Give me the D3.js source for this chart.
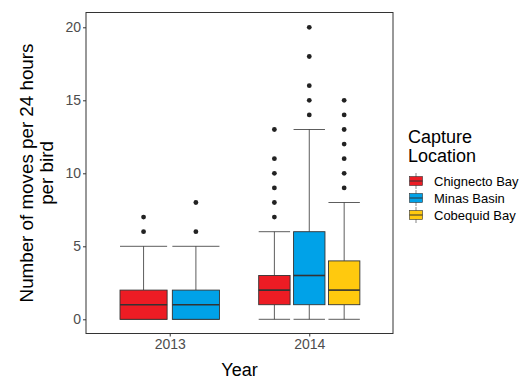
<!DOCTYPE html>
<html><head><meta charset="utf-8">
<script src="https://cdn.jsdelivr.net/npm/d3@7"></script>
<style>body{margin:0;background:#fff}svg{display:block;font-family:Arial,"Liberation Sans",sans-serif}</style>
</head><body><div id="chart"></div>
<script>
const years = ["2013", "2014"];
const locations = ["Chignecto Bay", "Minas Basin", "Cobequid Bay"];
const colors = ["#ED1C24", "#00A2E8", "#FFC90E"];
const yTicks = [0, 5, 10, 15, 20];
const boxYear = ["2013", "2013", "2014", "2014", "2014"];
const boxLoc = ["Chignecto Bay", "Minas Basin", "Chignecto Bay", "Minas Basin", "Cobequid Bay"];
const whiskerLow = [0, 0, 0, 0, 0];
const q1 = [0, 0, 1, 1, 1];
const median = [1, 1, 2, 3, 2];
const q3 = [2, 2, 3, 6, 4];
const whiskerHigh = [5, 5, 6, 13, 8];
const outliers = [[6, 7], [6, 8], [7, 8, 9, 10, 11, 13], [14, 15, 16, 18, 20], [9, 10, 11, 12, 13, 14, 15]];

const W = 525, H = 379;
const m = {l: 86, r: 393, t: 12.5, b: 333.5};
const svg = d3.select("#chart").append("svg").attr("width", W).attr("height", H);

// ggplot-style discrete expansion: 0.6 units on each side
const unit = (m.r - m.l) / 2.2;
const xs = d3.scalePoint().domain(years).range([m.l + unit * 0.6, m.r - unit * 0.6]);
const y = d3.scaleLinear().domain([0, 20]).range([319.3, 27.3]);
const color = d3.scaleOrdinal().domain(locations).range(colors);

// y axis
const gy = svg.append("g").attr("transform", `translate(${m.l},0)`)
  .call(d3.axisLeft(y).tickValues(yTicks).tickSize(3).tickPadding(2));
gy.select(".domain").remove();
gy.selectAll(".tick line").attr("stroke", "#333");
gy.selectAll(".tick text").attr("fill", "#4D4D4D").style("font-size", "14px");

// x axis
const gx = svg.append("g").attr("transform", `translate(0,${m.b})`)
  .call(d3.axisBottom(xs).tickSize(3).tickPadding(3));
gx.select(".domain").remove();
gx.selectAll(".tick line").attr("stroke", "#333");
gx.selectAll(".tick text").attr("fill", "#4D4D4D").style("font-size", "14px");

// boxes
const dodgeW = 0.75 * unit;
boxYear.forEach((yr, i) => {
  const n = boxYear.filter(v => v === yr).length;
  const k = boxYear.slice(0, i).filter(v => v === yr).length;
  const slot = dodgeW / n;
  const cx = xs(yr) - dodgeW / 2 + slot * (k + 0.5);
  const bw = slot * 0.9;
  const g = svg.append("g");
  g.append("line").attr("x1", cx).attr("x2", cx).attr("y1", y(q3[i])).attr("y2", y(whiskerHigh[i])).attr("stroke", "#333").attr("stroke-width", 0.8);
  g.append("line").attr("x1", cx).attr("x2", cx).attr("y1", y(q1[i])).attr("y2", y(whiskerLow[i])).attr("stroke", "#333").attr("stroke-width", 0.8);
  [whiskerHigh[i], whiskerLow[i]].forEach(v => {
    g.append("line").attr("x1", cx - bw / 2).attr("x2", cx + bw / 2).attr("y1", y(v)).attr("y2", y(v)).attr("stroke", "#333").attr("stroke-width", 0.8);
  });
  g.append("rect").attr("x", cx - bw / 2).attr("width", bw).attr("y", y(q3[i])).attr("height", y(q1[i]) - y(q3[i]))
    .attr("fill", color(boxLoc[i])).attr("stroke", "#333").attr("stroke-width", 0.9);
  g.append("line").attr("x1", cx - bw / 2).attr("x2", cx + bw / 2).attr("y1", y(median[i])).attr("y2", y(median[i])).attr("stroke", "#333").attr("stroke-width", 1.6);
  outliers[i].forEach(v => {
    g.append("circle").attr("cx", cx).attr("cy", y(v)).attr("r", 2.4).attr("fill", "#222");
  });
});

// panel border
svg.append("rect").attr("x", m.l).attr("y", m.t).attr("width", m.r - m.l).attr("height", m.b - m.t)
  .attr("fill", "none").attr("stroke", "#333").attr("stroke-width", 1);

// axis titles
svg.append("text").attr("x", (m.l + m.r) / 2).attr("y", 376).attr("text-anchor", "middle")
  .style("font-size", "18px").attr("fill", "#000").text("Year");
const yt = svg.append("text").attr("transform", `translate(33,${(m.t + m.b) / 2}) rotate(-90)`)
  .attr("text-anchor", "middle").style("font-size", "18.8px").attr("fill", "#000");
yt.append("tspan").attr("x", 0).attr("dy", 0).text("Number of moves per 24 hours");
yt.append("tspan").attr("x", 0).attr("dy", 20).text("per bird");

// legend
const lg = svg.append("g");
lg.append("text").attr("x", 408).attr("y", 143).style("font-size", "18px").text("Capture");
lg.append("text").attr("x", 408).attr("y", 162).style("font-size", "18px").text("Location");
locations.forEach((loc, i) => {
  const ky = 181 + i * 17;
  const kx = 416;
  lg.append("line").attr("x1", kx).attr("x2", kx).attr("y1", ky - 8).attr("y2", ky + 8).attr("stroke", "#333").attr("stroke-width", 0.6);
  lg.append("rect").attr("x", kx - 6.5).attr("y", ky - 4.5).attr("width", 13).attr("height", 9)
    .attr("fill", color(loc)).attr("stroke", "#333").attr("stroke-width", 0.6);
  lg.append("line").attr("x1", kx - 6.5).attr("x2", kx + 6.5).attr("y1", ky).attr("y2", ky).attr("stroke", "#333").attr("stroke-width", 1);
  lg.append("text").attr("x", 434).attr("y", ky + 4.5).style("font-size", "13px").attr("fill", "#000").text(loc);
});
</script></body></html>
